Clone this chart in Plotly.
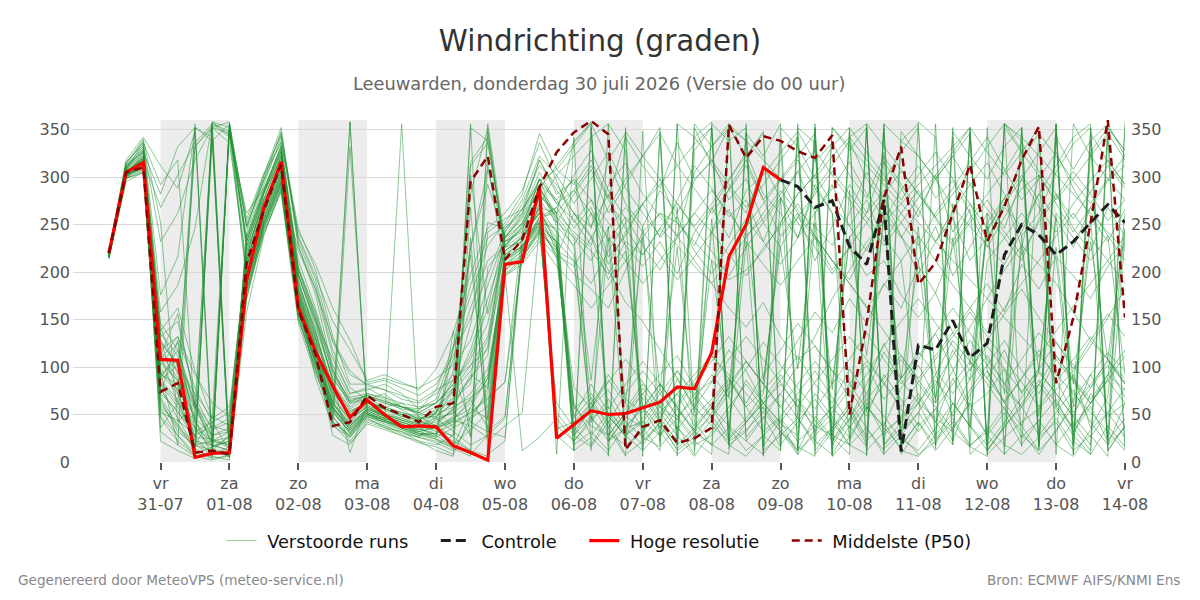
import plotly.graph_objects as go
from datetime import datetime, timedelta

# ---------------- data ----------------
start = datetime(2026, 7, 30, 6)
times = [start + timedelta(hours=6 * i) for i in range(60)]

tick_days = [datetime(2026, 7, 31) + timedelta(days=d) for d in range(15)]
tick_text = ["vr<br>31-07", "za<br>01-08", "zo<br>02-08", "ma<br>03-08", "di<br>04-08",
             "wo<br>05-08", "do<br>06-08", "vr<br>07-08", "za<br>08-08", "zo<br>09-08",
             "ma<br>10-08", "di<br>11-08", "wo<br>12-08", "do<br>13-08", "vr<br>14-08"]
shade_days = ["2026-07-31", "2026-08-02", "2026-08-04", "2026-08-06",
              "2026-08-08", "2026-08-10", "2026-08-12"]
y_ticks = [0, 50, 100, 150, 200, 250, 300, 350]

hres = [220, 305, 315, 108, 107, 5, 9, 10, 192, 268, 316, 163, 116, 80, 47, 65,
        50, 37, 38, 37, 17, 10, 2, 208, 211, 289, 25, 40, 54, 50, 51, 57, 63, 79,
        77, 115, 216, 250, 310, 297]

controle_start = 39
controle = [297, 290, 268, 275, 227, 208, 276, 11, 123, 118, 149, 110, 125, 218,
            250, 239, 218, 232, 252, 271, 252]

p50 = [220, 305, 310, 74, 83, 10, 12, 8, 210, 265, 313, 160, 113, 38, 42, 70, 57,
       50, 42, 58, 62, 295, 322, 213, 234, 289, 326, 347, 359, 345, 13, 37, 44, 20,
       25, 36, 355, 320, 343, 338, 327, 320, 344, 50, 146, 278, 332, 187, 210, 262,
       313, 232, 269, 318, 353, 83, 152, 252, 360, 152]

members = [
    "218 306 315 | 108 85 22 10 | 12 205 268 318 | 172 118 68 42 | 60 50 44 38 | 42 55 28 205 | 228 246 278 35 | 42 62 30 18 | 32 58 45 72 | 85 118 96 62 | 40 28 352 18 | 45 82 125 88 | 112 135 98 58 | 72 98 38 12 | 32 65 92 115 | 96",
    "216 300 322 | 135 112 45 356 | 342 262 288 332 | 212 162 96 58 | 72 66 55 45 | 52 78 145 252 | 246 262 305 272 | 255 228 292 315 | 282 258 238 305 | 332 352 338 318 | 298 265 248 228 | 262 305 278 238 | 198 232 265 292 | 315 282 238 262 | 305 335 352 12 | 38",
    "220 311 332 | 62 36 14 4 | 356 222 276 306 | 192 132 42 28 | 56 48 40 30 | 24 14 6 348 | 222 238 262 232 | 212 188 222 252 | 272 292 312 335 | 352 14 42 62 | 82 58 38 28 | 18 8 356 338 | 322 298 268 248 | 228 208 242 282 | 312 342 356 18 | 62",
    "214 295 305 | 46 22 8 16 | 26 192 256 302 | 158 102 58 34 | 52 44 36 28 | 34 46 62 88 | 206 222 252 214 | 58 38 28 52 | 72 92 112 78 | 58 38 22 8 | 352 332 298 322 | 342 356 14 32 | 52 82 112 142 | 172 202 228 208 | 188 158 128 108 | 88",
    "219 312 326 | 282 332 352 22 | 32 172 252 296 | 222 182 112 72 | 76 82 72 56 | 62 82 112 162 | 242 272 312 292 | 262 238 202 168 | 148 118 88 58 | 38 22 34 52 | 72 102 132 172 | 202 232 252 272 | 292 312 332 352 | 8 26 42 56 | 76 96 122 152 | 182",
    "217 303 318 | 76 52 32 42 | 12 216 282 326 | 166 112 52 32 | 48 40 34 28 | 30 22 12 6 | 202 216 242 222 | 198 182 162 202 | 242 262 252 232 | 212 192 202 222 | 252 282 302 332 | 352 12 32 46 | 62 46 32 16 | 6 356 342 322 | 302 282 262 242 | 222",
    "221 308 336 | 142 92 332 352 | 6 236 292 342 | 246 202 132 82 | 82 76 66 62 | 72 92 42 32 | 26 222 272 302 | 322 342 356 16 | 32 52 72 92 | 112 92 72 52 | 32 16 6 352 | 332 312 292 272 | 252 232 212 192 | 172 152 132 112 | 92 72 52 32 | 12",
    "215 302 310 | 88 118 58 22 | 18 182 246 292 | 198 142 88 62 | 68 58 62 48 | 38 58 92 78 | 218 232 268 242 | 48 82 52 26 | 68 42 88 56 | 242 288 262 312 | 278 236 292 262 | 22 58 38 78 | 102 68 118 86 | 242 278 226 302 | 58 92 36 68 | 246",
    "218 298 318 | 112 156 62 18 | 356 248 296 346 | 232 186 118 78 | 66 54 48 44 | 56 36 352 338 | 232 242 298 252 | 282 308 262 292 | 322 352 18 352 | 312 288 318 276 | 238 262 212 248 | 292 262 316 288 | 258 302 242 272 | 232 272 318 346 | 8 356 322 298 | 276",
    "216 305 312 | 32 18 6 2 | 8 158 238 288 | 152 96 48 22 | 44 38 32 22 | 18 28 236 22 | 38 52 248 232 | 28 48 22 36 | 42 28 56 32 | 18 36 12 28 | 46 22 38 58 | 36 62 28 48 | 72 42 88 56 | 28 52 18 44 | 66 32 58 22 | 46",
    "220 314 340 | 252 42 62 36 | 46 202 262 312 | 182 128 76 48 | 62 56 50 46 | 48 62 88 122 | 212 228 258 268 | 238 222 198 232 | 218 246 228 206 | 188 162 142 168 | 132 108 122 96 | 78 102 66 88 | 116 92 128 106 | 88 118 72 98 | 126 102 78 108 | 82",
    "217 302 316 | 98 76 352 338 | 356 228 278 322 | 188 138 66 46 | 58 48 42 36 | 28 16 58 88 | 196 212 236 216 | 262 248 282 228 | 206 232 198 242 | 268 236 286 302 | 326 348 316 336 | 302 278 322 292 | 266 232 256 212 | 236 268 248 282 | 256 226 268 238 | 212",
    "219 309 328 | 128 102 42 16 | 22 196 262 302 | 168 88 38 26 | 46 36 28 22 | 12 6 356 8 | 22 236 268 262 | 28 16 42 8 | 22 38 14 32 | 18 8 356 12 | 28 46 18 36 | 56 22 42 12 | 6 28 352 16 | 36 18 8 26 | 42 12 28 6 | 352",
    "216 304 320 | 66 32 18 12 | 6 212 272 308 | 196 148 108 72 | 78 68 58 52 | 62 108 162 212 | 228 252 288 312 | 336 358 22 48 | 36 62 78 48 | 66 88 58 76 | 96 128 158 136 | 172 146 188 162 | 206 178 226 252 | 276 246 298 268 | 242 272 296 318 | 292",
    "222 318 342 | 312 288 348 8 | 352 246 302 352 | 228 176 98 62 | 66 72 58 54 | 76 122 176 228 | 252 282 346 308 | 292 318 278 342 | 312 288 336 298 | 316 352 322 348 | 12 352 336 6 | 342 318 296 326 | 352 18 348 322 | 298 332 352 16 | 342 308 338 356 | 322",
    "214 299 307 | 52 44 28 38 | 32 178 242 284 | 146 92 56 38 | 54 46 40 32 | 36 48 302 156 | 218 226 252 38 | 22 46 58 28 | 42 66 36 18 | 28 52 86 62 | 42 66 32 52 | 76 48 92 66 | 38 56 22 72 | 96 62 38 82 | 56 28 72 48 | 62",
    "218 306 314 | 118 132 92 62 | 48 222 272 316 | 176 122 72 52 | 64 58 52 46 | 52 66 82 242 | 256 266 292 248 | 228 262 208 242 | 272 236 258 222 | 198 228 256 232 | 276 306 262 292 | 248 222 266 238 | 212 248 196 226 | 262 236 212 256 | 282 246 222 268 | 238",
    "215 301 326 | 22 12 4 356 | 348 236 286 334 | 204 152 84 56 | 68 62 56 52 | 46 32 18 28 | 216 234 266 228 | 62 28 52 36 | 18 42 12 26 | 356 338 352 8 | 32 12 48 26 | 8 352 18 36 | 62 28 52 88 | 112 82 58 96 | 72 48 92 62 | 38",
    "220 313 338 | 176 216 352 342 | 10 242 296 338 | 238 196 148 118 | 86 92 84 76 | 98 136 198 246 | 262 286 336 296 | 252 276 232 258 | 228 202 236 262 | 242 218 196 226 | 248 272 238 212 | 192 226 254 286 | 312 278 296 262 | 226 258 288 302 | 272 242 268 296 | 312",
    "217 305 317 | 86 66 18 8 | 16 198 258 298 | 162 108 62 36 | 52 44 36 30 | 28 138 26 314 | 202 218 246 218 | 46 68 36 56 | 82 58 96 72 | 48 78 106 82 | 58 36 72 48 | 26 58 36 16 | 42 18 62 38 | 12 38 58 28 | 52 76 42 18 | 36",
    "216 303 315 | 72 128 12 342 | 4 186 252 296 | 170 116 46 358 | 48 42 356 36 | 52 96 282 352 | 218 238 272 8 | 342 12 356 328 | 6 348 18 342 | 358 22 346 6 | 336 14 352 28 | 348 6 326 12 | 358 342 18 346 | 8 356 328 14 | 346 8 352 24 | 358",
    "219 308 322 | 96 18 356 14 | 8 212 268 312 | 184 132 82 54 | 62 56 48 42 | 38 26 12 356 | 232 244 282 262 | 12 352 36 6 | 348 22 356 42 | 18 356 338 16 | 44 8 356 22 | 52 18 348 8 | 36 356 22 348 | 12 38 352 18 | 356 28 8 342 | 16",
    "216 300 312 | 112 62 26 24 | 18 188 250 294 | 158 104 42 28 | 46 38 30 26 | 20 12 42 78 | 222 236 262 222 | 212 42 236 22 | 248 18 268 12 | 256 36 232 18 | 278 46 252 8 | 286 52 266 28 | 248 62 272 36 | 262 16 238 48 | 226 58 256 22 | 236",
    "221 316 334 | 232 262 318 352 | 358 252 302 336 | 242 208 162 128 | 84 88 82 78 | 88 102 128 186 | 238 262 318 282 | 296 246 318 272 | 248 286 262 296 | 318 276 298 252 | 226 258 236 202 | 226 196 212 176 | 152 178 136 162 | 188 158 208 182 | 216 196 172 206 | 228",
    "217 306 319 | 82 58 26 8 | 352 206 264 310 | 178 124 56 358 | 50 46 40 34 | 30 44 66 92 | 208 226 256 226 | 78 56 92 66 | 52 76 48 66 | 92 68 42 62 | 86 112 82 62 | 98 72 116 86 | 62 92 48 76 | 102 128 96 72 | 108 84 62 92 | 76",
    "218 304 314 | 104 86 46 28 | 36 216 276 322 | 186 136 78 48 | 60 52 46 40 | 46 52 316 342 | 226 232 254 268 | 302 328 286 256 | 22 42 18 36 | 58 26 46 72 | 252 282 302 272 | 248 276 232 262 | 286 258 232 266 | 96 62 88 118 | 86 52 78 102 | 68",
    "215 302 308 | 58 40 12 6 | 2 176 240 286 | 150 100 54 30 | 48 42 34 26 | 22 16 268 44 | 198 214 244 232 | 36 18 48 28 | 12 32 8 22 | 44 18 32 58 | 36 12 28 46 | 18 36 8 28 | 52 24 46 18 | 32 58 26 44 | 18 6 34 52 | 26",
    "220 310 330 | 132 148 68 34 | 42 226 284 332 | 206 156 92 66 | 70 64 58 56 | 66 118 186 236 | 248 276 322 302 | 272 298 326 288 | 262 238 276 312 | 288 258 276 232 | 208 236 262 288 | 316 282 258 236 | 266 298 322 292 | 266 242 218 252 | 278 306 282 254 | 276",
    "216 301 312 | 92 82 36 22 | 26 182 246 290 | 164 108 64 40 | 56 48 42 36 | 38 46 56 46 | 212 224 248 52 | 28 58 76 42 | 26 48 72 38 | 62 86 58 32 | 48 72 96 68 | 42 66 88 112 | 86 62 96 128 | 102 76 58 82 | 112 88 66 92 | 118",
    "219 307 320 | 116 96 56 352 | 346 232 284 320 | 178 126 36 332 | 58 50 44 40 | 32 28 226 292 | 236 258 292 276 | 246 268 216 238 | 272 298 252 228 | 266 296 326 282 | 262 236 286 312 | 338 298 272 252 | 228 262 288 316 | 342 308 276 298 | 326 288 258 232 | 266",
    "217 305 316 | 78 46 14 352 | 336 206 262 306 | 172 118 58 36 | 54 46 40 34 | 36 42 52 68 | 84 242 262 236 | 18 32 12 38 | 56 28 46 22 | 8 356 26 48 | 16 342 8 32 | 58 26 356 18 | 42 12 36 62 | 28 8 352 22 | 46 18 338 12 | 38",
    "218 304 318 | 126 102 58 18 | 12 196 258 304 | 168 112 28 18 | 42 36 32 26 | 46 76 102 132 | 236 256 288 256 | 226 86 248 62 | 236 76 226 52 | 212 68 248 86 | 226 98 262 76 | 238 112 256 88 | 212 66 236 102 | 248 72 226 96 | 258 82 232 108 | 246",
    "215 299 304 | 48 28 6 358 | 344 196 256 300 | 154 98 52 32 | 50 42 36 28 | 24 18 34 52 | 214 228 254 28 | 12 26 8 352 | 26 16 38 8 | 352 18 6 28 | 12 356 22 8 | 38 16 352 28 | 8 22 42 16 | 352 8 28 12 | 356 22 8 38 | 16",
    "220 312 332 | 158 186 246 358 | 352 248 298 348 | 236 192 126 92 | 82 86 78 70 | 82 112 152 198 | 242 266 318 286 | 262 236 268 298 | 322 346 312 288 | 262 286 312 276 | 298 322 346 12 | 352 326 302 276 | 302 326 298 272 | 246 272 298 326 | 352 18 346 316 | 292",
    "216 302 313 | 94 72 34 16 | 22 204 264 310 | 174 120 70 44 | 58 50 44 38 | 44 52 66 36 | 208 222 248 218 | 206 236 192 222 | 58 36 62 86 | 112 88 62 92 | 118 146 122 96 | 68 92 122 148 | 172 146 122 96 | 128 156 182 152 | 126 98 128 156 | 132",
    "219 309 324 | 108 132 78 42 | 52 218 276 324 | 196 146 88 64 | 70 62 58 50 | 58 74 96 128 | 228 248 282 258 | 236 212 246 268 | 242 218 192 216 | 242 266 232 208 | 186 212 236 212 | 188 162 186 212 | 238 212 186 162 | 136 162 188 212 | 238 262 236 212 | 188",
    "217 303 310 | 84 62 44 6 | 356 188 252 296 | 160 106 58 34 | 50 44 38 34 | 40 56 72 98 | 198 12 26 46 | 22 42 66 36 | 58 82 56 32 | 48 24 42 66 | 92 66 44 22 | 46 72 48 24 | 12 36 62 38 | 18 42 68 94 | 72 48 26 52 | 78",
    "218 306 318 | 268 302 336 356 | 14 238 288 328 | 202 158 102 68 | 72 68 62 58 | 62 78 118 172 | 226 248 298 272 | 286 312 276 246 | 218 246 272 246 | 222 196 226 252 | 278 252 226 198 | 226 252 282 306 | 282 256 228 256 | 282 306 336 306 | 282 256 284 312 | 288",
    "216 301 311 | 68 38 18 22 | 16 172 244 288 | 156 104 62 38 | 54 46 38 32 | 26 122 218 32 | 48 228 252 246 | 56 72 48 28 | 46 72 96 68 | 46 72 98 126 | 102 78 56 82 | 108 136 108 82 | 108 136 162 136 | 108 82 108 136 | 112 86 62 86 | 112",
    "220 311 328 | 146 118 62 26 | 352 226 282 326 | 190 138 74 50 | 62 58 52 48 | 54 68 88 112 | 232 252 288 262 | 338 356 318 346 | 12 342 6 328 | 352 18 346 322 | 356 12 338 6 | 26 352 8 338 | 356 14 342 8 | 26 356 338 18 | 356 8 326 352 | 12",
    "217 304 322 | 102 126 36 12 | 28 210 270 314 | 180 122 62 38 | 56 48 42 36 | 48 62 312 336 | 226 240 276 252 | 236 62 42 72 | 96 72 48 26 | 52 78 248 272 | 296 318 288 262 | 82 56 82 108 | 82 58 34 62 | 252 278 302 276 | 58 36 62 88 | 262",
    "219 310 328 | 36 62 332 354 | 18 232 286 330 | 198 150 86 10 | 62 56 50 44 | 36 18 8 28 | 46 226 258 262 | 286 262 236 212 | 188 212 238 262 | 286 262 238 256 | 282 306 328 302 | 276 252 228 252 | 278 302 326 352 | 18 352 326 302 | 276 298 322 346 | 318",
    "215 298 306 | 128 72 18 48 | 38 186 250 292 | 152 96 40 20 | 40 34 28 20 | 16 8 48 72 | 206 218 244 62 | 36 62 86 62 | 36 12 356 342 | 318 292 268 292 | 318 342 12 36 | 62 36 12 348 | 322 298 322 346 | 12 36 62 86 | 62 36 12 352 | 328",
    "218 307 317 | 92 108 62 28 | 32 208 266 312 | 176 116 62 40 | 56 50 46 40 | 52 88 226 308 | 236 250 280 262 | 242 226 56 82 | 106 82 58 82 | 106 132 106 82 | 58 82 106 82 | 236 262 286 262 | 238 96 72 98 | 122 98 74 98 | 262 236 212 238 | 92",
    "221 315 336 | 292 318 42 22 | 352 256 304 344 | 226 182 128 96 | 80 76 70 64 | 76 86 102 118 | 246 266 296 308 | 332 356 6 348 | 322 298 272 248 | 272 298 322 346 | 18 42 66 42 | 18 356 332 308 | 282 258 282 306 | 332 356 16 346 | 322 296 272 298 | 322",
    "216 302 314 | 56 28 10 4 | 6 190 254 300 | 160 104 56 34 | 52 44 38 30 | 26 36 46 58 | 222 236 262 242 | 218 46 28 52 | 78 52 28 6 | 32 58 82 56 | 32 8 34 58 | 82 106 82 56 | 32 56 82 106 | 82 56 32 8 | 34 58 82 106 | 82",
    "218 305 320 | 114 88 26 340 | 6 198 262 306 | 170 114 48 26 | 50 42 38 32 | 36 44 38 26 | 212 226 250 232 | 12 352 22 46 | 72 46 22 356 | 332 356 22 46 | 72 46 22 352 | 328 352 18 42 | 68 42 18 352 | 326 302 326 352 | 18 42 18 352 | 328",
    "217 303 314 | 86 102 72 46 | 58 212 270 316 | 182 130 76 52 | 64 56 50 44 | 50 58 68 82 | 196 208 232 206 | 186 162 186 212 | 236 262 238 212 | 188 212 236 262 | 286 262 238 212 | 188 164 138 112 | 88 112 136 112 | 88 64 88 112 | 138 164 188 212 | 238",
    "220 308 326 | 138 162 96 46 | 356 232 284 328 | 202 152 96 64 | 70 64 58 52 | 62 82 108 146 | 236 260 298 276 | 298 276 252 228 | 56 82 58 34 | 58 82 106 82 | 236 258 282 306 | 282 258 236 212 | 62 86 62 38 | 212 236 262 238 | 214 38 62 86 | 62",
    "216 300 309 | 72 54 22 18 | 12 180 248 294 | 162 106 56 30 | 50 44 36 30 | 30 40 52 66 | 84 216 240 226 | 32 58 84 108 | 84 58 34 58 | 84 108 132 108 | 84 58 84 108 | 132 108 84 58 | 84 108 132 158 | 132 108 84 58 | 84 108 132 108 | 84",
]

# ---------------- figure ----------------
FONT = "DejaVu Sans"
NB = "\u00a0"
fig = go.Figure()

for k, s in enumerate(members):
    vals = [float(v) for v in s.replace("|", " ").split()][:60]
    fig.add_trace(go.Scatter(
        x=times[:len(vals)], y=vals, mode="lines",
        line=dict(color="rgba(34,145,52,0.5)", width=1),
        name=NB + "Verstoorde runs" + NB * 4, legendgroup="ens", showlegend=(k == 0),
        hoverinfo="skip"))

fig.add_trace(go.Scatter(
    x=times[controle_start:controle_start + len(controle)], y=controle, mode="lines",
    line=dict(color="#1e1e1e", width=3, dash="10px,5px"),
    name=NB + "Controle" + NB * 4))

fig.add_trace(go.Scatter(
    x=times[:len(hres)], y=hres, mode="lines",
    line=dict(color="#ff0000", width=3.2), name=NB + "Hoge resolutie" + NB * 4))

fig.add_trace(go.Scatter(
    x=times[:len(p50)], y=p50, mode="lines",
    line=dict(color="#8b0000", width=2.5, dash="8px,5px"), name=NB + "Middelste (P50)"))

# dummy trace to show the right-hand axis
fig.add_trace(go.Scatter(x=[times[0]], y=[None], yaxis="y2", showlegend=False,
                         hoverinfo="skip", mode="lines"))

shapes = []
for d in shade_days:
    d0 = datetime.fromisoformat(d)
    shapes.append(dict(type="rect", xref="x", yref="paper", x0=d0,
                       x1=d0 + timedelta(days=1), y0=0, y1=1,
                       fillcolor="#ececec", line=dict(width=0), layer="below"))

fig.update_layout(
    width=1200, height=600,
    margin=dict(l=73, r=75, t=120, b=138),
    paper_bgcolor="white", plot_bgcolor="white",
    font=dict(family=FONT, color="#444"),
    title=dict(text="Windrichting (graden)", x=0.5, xanchor="center",
               y=1 - 41 / 600, yanchor="middle", yref="container",
               font=dict(family=FONT, size=29.4, color="#333")),
    shapes=shapes,
    showlegend=True,
    legend=dict(orientation="h", x=0.5, xanchor="center", y=-0.231, yanchor="middle",
                font=dict(family=FONT, size=17.8, color="#111"),
                bgcolor="rgba(0,0,0,0)", itemwidth=30),
    xaxis=dict(type="date",
               range=[datetime(2026, 7, 29, 17, 30), datetime(2026, 8, 14, 0, 0)],
               tickmode="array", tickvals=tick_days, ticktext=tick_text,
               ticks="outside", ticklen=7, tickwidth=2, tickcolor="#555",
               showgrid=False, zeroline=False, showline=False,
               tickfont=dict(family=FONT, size=16, color="#555")),
    yaxis=dict(range=[0, 360], tickmode="array", tickvals=y_ticks,
               showgrid=True, gridcolor="#d9d9d9", gridwidth=1, zeroline=False,
               showline=False, ticks="", ticklabelstandoff=2,
               tickfont=dict(family=FONT, size=16, color="#555")),
    yaxis2=dict(range=[0, 360], tickmode="array", tickvals=y_ticks,
                overlaying="y", side="right", showgrid=False, zeroline=False,
                showline=False, ticks="", ticklabelstandoff=5,
                tickfont=dict(family=FONT, size=16, color="#555")),
    annotations=[
        dict(text="Leeuwarden, donderdag 30 juli 2026 (Versie do 00 uur)",
             xref="paper", yref="paper", x=0.5, y=(462 - 83) / 342,
             xanchor="center", yanchor="middle", showarrow=False,
             font=dict(family=FONT, size=17.8, color="#666")),
        dict(text="Gegenereerd door MeteoVPS (meteo-service.nl)",
             xref="paper", yref="paper", x=(16 - 73) / 1052, y=(462 - 580) / 342,
             xanchor="left", yanchor="middle", showarrow=False,
             font=dict(family=FONT, size=13.6, color="#888")),
        dict(text="Bron: ECMWF AIFS/KNMI Ens",
             xref="paper", yref="paper", x=(1182 - 73) / 1052, y=(462 - 580) / 342,
             xanchor="right", yanchor="middle", showarrow=False,
             font=dict(family=FONT, size=13.6, color="#888")),
    ],
)

fig.write_html("out.html")
